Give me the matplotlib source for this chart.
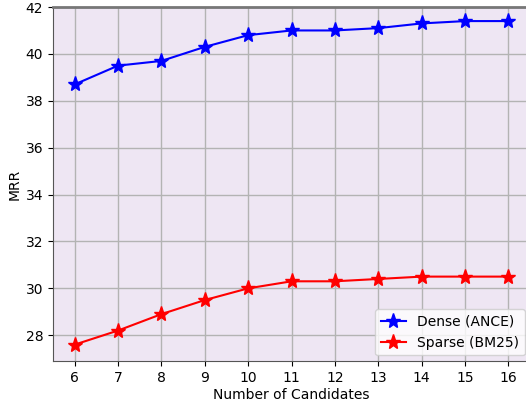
import matplotlib.pyplot as plt
import numpy as np

candidates = [6, 7, 8, 9, 10, 11, 12, 13, 14, 15, 16]
dense_mrr = [38.7, 39.5, 39.7, 40.3, 40.8, 41.0, 41.0, 41.1, 41.3, 41.4, 41.4]
sparse_mrr = [27.6, 28.2, 28.9, 29.5, 30.0, 30.3, 30.3, 30.4, 30.5, 30.5, 30.5]

fig = plt.figure(figsize=(5.26, 4.03), dpi=100)
ax = fig.add_axes([0.1008, 0.1042, 0.907, 0.8784])
ax.set_facecolor("#eee6f3")

ax.plot(candidates, dense_mrr, color="blue", marker="*", markersize=11, linewidth=1.5, label="Dense (ANCE)")
ax.plot(candidates, sparse_mrr, color="red", marker="*", markersize=11, linewidth=1.5, label="Sparse (BM25)")

ax.set_xlim(5.5, 16.5)
ax.set_ylim(26.9, 42)
ax.set_xticks(candidates)
ax.set_yticks(np.arange(28, 43, 2))
ax.grid(True, color="#b3b3b3", linewidth=1.0)
ax.set_axisbelow(True)

for side in ["left", "bottom", "top", "right"]:
    ax.spines[side].set_color("#555555")
ax.spines["top"].set_linewidth(2.0)
ax.spines["top"].set_color("#777777")

ax.set_xlabel("Number of Candidates", labelpad=2)
ax.set_ylabel("MRR", labelpad=3)
ax.legend(loc="lower right", fontsize=10, borderaxespad=0.4, handlelength=1.8)

fig.savefig("out.png", dpi=100)
